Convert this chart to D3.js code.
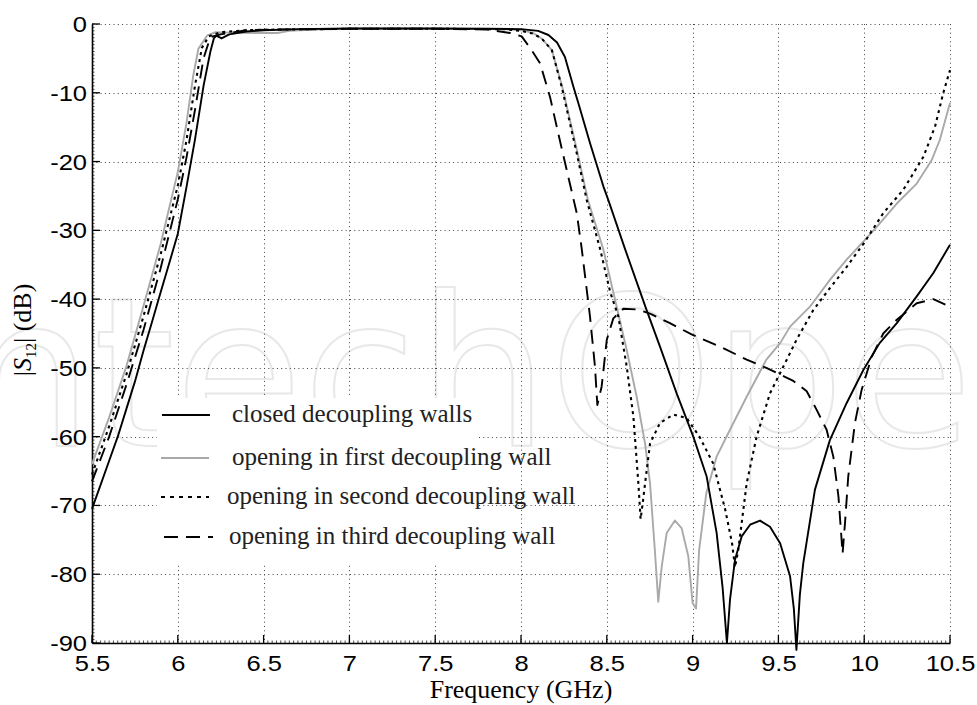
<!DOCTYPE html>
<html>
<head>
<meta charset="utf-8">
<script src="https://cdn.jsdelivr.net/npm/d3@7/dist/d3.min.js"></script>
<style>
  body { margin: 0; background: #fff; }
  svg { display: block; }
</style>
</head>
<body>
<div id="chart"></div>
<script>
'use strict';

// frequency (GHz), |S12| (dB)
const closedWalls = [
    [5.5,-70.5],[5.55,-67],[5.6,-63.5],[5.65,-60],[5.7,-56],[5.75,-52],[5.8,-47.5],[5.85,-43.3],[5.9,-39],
    [5.95,-34.8],[6.0,-30.5],[6.05,-23.8],[6.1,-16.8],[6.15,-9],[6.19,-4],[6.21,-2.1],[6.225,-1.7],[6.255,-2.1],
    [6.3,-1.5],[6.4,-1.1],[6.5,-0.9],[6.7,-0.75],[7.0,-0.65],[7.5,-0.65],[7.8,-0.7],[8.0,-0.75],[8.1,-1.0],
    [8.16,-1.6],[8.21,-2.7],[8.256,-4.8],[8.305,-9.1],[8.334,-11.5],[8.402,-17.3],[8.48,-23.6],[8.509,-25.6],
    [8.606,-32.7],[8.732,-41.6],[8.81,-46.9],[8.907,-53.7],[9.004,-60],[9.082,-65.8],[9.14,-74],[9.175,-82],
    [9.2,-90],[9.218,-83.7],[9.247,-77.9],[9.286,-74.5],[9.335,-72.8],[9.393,-72.2],[9.451,-73.1],[9.51,-75.5],
    [9.568,-80.3],[9.59,-85],[9.605,-91],[9.625,-83],[9.645,-78.4],[9.713,-67.7],[9.8,-60.5],[9.898,-55.1],
    [9.995,-50.3],[10.09,-46.4],[10.19,-43.5],[10.306,-39.6],[10.403,-36.2],[10.5,-32.1]
];

const firstWall = [
    [5.5,-64],[5.6,-57.2],[5.7,-49.8],[5.8,-41],[5.9,-32],[6.0,-21.5],[6.05,-14.5],[6.09,-7.5],[6.12,-3.6],
    [6.17,-1.7],[6.22,-1.2],[6.3,-1.25],[6.45,-1.3],[6.58,-1.3],[6.65,-1.0],[6.8,-0.8],[7.0,-0.7],[7.5,-0.7],
    [7.9,-0.75],[8.0,-0.9],[8.07,-1.3],[8.12,-2.1],[8.18,-3.8],[8.24,-9.1],[8.33,-18.8],[8.39,-25.6],
    [8.48,-32.8],[8.548,-40.1],[8.616,-47.4],[8.674,-54.2],[8.723,-61],[8.752,-66.8],[8.78,-76.5],[8.8,-84],
    [8.82,-78.9],[8.849,-74],[8.897,-72.2],[8.936,-73.3],[8.975,-77.4],[9.0,-84.2],[9.02,-85],[9.038,-76.5],
    [9.08,-68.2],[9.14,-62.9],[9.218,-59],[9.315,-54.2],[9.43,-48.8],[9.51,-46.4],[9.568,-44],[9.684,-41.1],
    [9.723,-39.8],[9.8,-37.2],[9.9,-34.2],[10.0,-31.5],[10.073,-29.5],[10.19,-26.1],[10.306,-23.2],
    [10.393,-19.8],[10.44,-16.9],[10.5,-11.5]
];

const secondWall = [
    [5.5,-65.5],[5.6,-58.5],[5.7,-51],[5.8,-42.5],[5.9,-33.5],[6.0,-23.5],[6.05,-17],[6.1,-9],[6.14,-3.5],
    [6.18,-1.8],[6.25,-1.2],[6.4,-0.9],[6.6,-0.8],[7.0,-0.7],[7.5,-0.7],[7.9,-0.75],[8.0,-1.0],[8.07,-1.4],
    [8.12,-2.1],[8.18,-3.8],[8.237,-9.1],[8.325,-18.8],[8.383,-25.6],[8.46,-32.6],[8.52,-39],[8.567,-42.5],
    [8.616,-49.8],[8.655,-57.1],[8.684,-66.8],[8.697,-72],[8.71,-69.5],[8.723,-66.8],[8.752,-61],[8.81,-58],
    [8.888,-56.8],[8.965,-57.3],[9.04,-60],[9.12,-63.9],[9.19,-70.6],[9.23,-75.5],[9.247,-79],[9.266,-76.5],
    [9.315,-66.8],[9.373,-60],[9.451,-53.7],[9.529,-49.8],[9.606,-45.9],[9.703,-41.6],[9.8,-38.4],
    [9.898,-35.3],[10.0,-31.8],[10.111,-27.5],[10.228,-24.1],[10.345,-19.3],[10.413,-14.9],[10.46,-10.1],
    [10.5,-6.7]
];

const thirdWall = [
    [5.5,-66.5],[5.6,-60],[5.7,-52.5],[5.8,-44.5],[5.9,-35.5],[6.0,-25.5],[6.05,-19.5],[6.1,-12.5],[6.15,-5],
    [6.19,-1.9],[6.25,-1.5],[6.4,-0.9],[6.6,-0.8],[7.0,-0.7],[7.5,-0.7],[7.8,-0.8],[7.936,-1.3],[8.004,-1.8],
    [8.062,-3.8],[8.111,-5.7],[8.169,-10.6],[8.217,-15.9],[8.266,-21.2],[8.325,-27.5],[8.354,-32.7],
    [8.402,-42.5],[8.431,-49.8],[8.445,-55.4],[8.47,-52.7],[8.5,-45.9],[8.538,-42.8],[8.597,-41.4],
    [8.674,-41.5],[8.752,-42.1],[8.868,-43.5],[9.0,-45.2],[9.16,-46.9],[9.315,-48.8],[9.43,-50],[9.538,-51.3],
    [9.587,-51.9],[9.665,-53.4],[9.723,-56.1],[9.781,-59],[9.82,-62.9],[9.85,-68.7],[9.874,-77],[9.888,-72.6],
    [9.907,-65.8],[9.946,-58],[9.985,-53.2],[10.044,-48.4],[10.111,-45],[10.19,-43],[10.306,-40.6],
    [10.403,-40],[10.5,-41.1]
];

const seriesNames = [
    "closed decoupling walls",
    "opening in first decoupling wall",
    "opening in second decoupling wall",
    "opening in third decoupling wall"
];

const freqTicks = [5.5, 6, 6.5, 7, 7.5, 8, 8.5, 9, 9.5, 10, 10.5];
const dbTicks = [0, -10, -20, -30, -40, -50, -60, -70, -80, -90];

const width = 977;
const height = 705;
const margin = { top: 24, right: 27, bottom: 62, left: 92 };
const serif = "'Liberation Serif', 'Times New Roman', serif";
const sans = "'Liberation Sans', Arial, sans-serif";
const stretch = 1.16; // tick labels in the figure are a bit wide

const styles = [
    { color: "#000", width: 1.9, dash: null },
    { color: "#a9a9a9", width: 1.9, dash: null },
    { color: "#000", width: 2.1, dash: "3,4" },
    { color: "#000", width: 1.9, dash: "14,8" }
];

const x = d3.scaleLinear().domain([5.5, 10.5]).range([margin.left, width - margin.right]);
const y = d3.scaleLinear().domain([-90, 0]).range([height - margin.bottom, margin.top]);

const svg = d3.select("#chart")
    .append("svg")
    .attr("viewBox", [0, 0, width, height])
    .attr("width", width)
    .attr("height", height);

svg.append("rect").attr("width", width).attr("height", height).attr("fill", "#fff");

// faint watermark
svg.append("text")
    .attr("x", -100)
    .attr("y", 446)
    .attr("font-family", "'DejaVu Sans', sans-serif")
    .attr("font-size", 208)
    .attr("fill", "none")
    .attr("stroke", "#e8e8e8")
    .attr("stroke-width", 2)
    .text("IntechOpen");

// grid
const grid = svg.append("g")
    .attr("stroke", "#444")
    .attr("stroke-width", 1)
    .attr("stroke-dasharray", "1,3.3");

grid.selectAll("line.v")
    .data(freqTicks.slice(1))
    .join("line")
    .attr("class", "v")
    .attr("x1", d => Math.round(x(d)) + 0.5)
    .attr("x2", d => Math.round(x(d)) + 0.5)
    .attr("y1", y(0))
    .attr("y2", y(-90));

grid.selectAll("line.h")
    .data(dbTicks.slice(0, -1))
    .join("line")
    .attr("class", "h")
    .attr("y1", d => Math.round(y(d)) + 0.5)
    .attr("y2", d => Math.round(y(d)) + 0.5)
    .attr("x1", x(5.5))
    .attr("x2", x(10.5));

// legend background hides the grid behind it
svg.append("rect")
    .attr("x", 157).attr("y", 398)
    .attr("width", 320).attr("height", 165)
    .attr("fill", "#fff");

// axes
const xAxis = d3.axisBottom(x).tickValues(freqTicks).tickSize(0)
    .tickFormat(d => String(d));
const yAxis = d3.axisLeft(y).tickValues(dbTicks).tickSize(0)
    .tickFormat(d => String(d));

const gx = svg.append("g")
    .attr("transform", `translate(0,${y(-90)})`)
    .call(xAxis);
const gy = svg.append("g")
    .attr("transform", `translate(${x(5.5)},0)`)
    .call(yAxis);

[gx, gy].forEach(g => {
    g.select(".domain").attr("stroke", "#000").attr("stroke-width", 1.6);
    g.selectAll("text")
        .attr("font-family", sans)
        .attr("font-size", 22)
        .attr("fill", "#000")
        .attr("transform", `scale(${stretch},1)`);
});
gx.selectAll(".tick text").attr("y", 28).attr("dy", 0);
gy.selectAll(".tick text").attr("x", -5 / stretch).attr("dy", "0.34em");

// major and minor ticks pointing into the plot
const ticks = svg.append("g").attr("stroke", "#000");
ticks.selectAll("line.xmaj").data(freqTicks).join("line")
    .attr("x1", d => x(d)).attr("x2", d => x(d))
    .attr("y1", y(-90)).attr("y2", y(-90) - 8).attr("stroke-width", 1.3);
ticks.selectAll("line.ymaj").data(dbTicks).join("line")
    .attr("y1", d => y(d)).attr("y2", d => y(d))
    .attr("x1", x(5.5)).attr("x2", x(5.5) + 8).attr("stroke-width", 1.3);
ticks.selectAll("line.xmin").data(d3.range(5.5, 10.5001, 0.025)).join("line")
    .attr("x1", d => x(d)).attr("x2", d => x(d))
    .attr("y1", y(-90)).attr("y2", y(-90) - 2.5).attr("stroke-width", 0.7);
ticks.selectAll("line.ymin").data(d3.range(-90, 0.001, 0.5)).join("line")
    .attr("y1", d => y(d)).attr("y2", d => y(d))
    .attr("x1", x(5.5)).attr("x2", x(5.5) + 2.5).attr("stroke-width", 0.7);

// curves
const line = d3.line().x(d => x(d[0])).y(d => y(d[1]));
const allSeries = [firstWall, closedWalls, secondWall, thirdWall];
const styleOrder = [1, 0, 2, 3];

svg.append("g")
    .attr("fill", "none")
    .selectAll("path")
    .data(allSeries)
    .join("path")
    .attr("d", line)
    .attr("stroke", (d, i) => styles[styleOrder[i]].color)
    .attr("stroke-width", (d, i) => styles[styleOrder[i]].width)
    .attr("stroke-dasharray", (d, i) => styles[styleOrder[i]].dash)
    .attr("stroke-linejoin", "round");

// legend
const legendRows = [
    { y: 415, x1: 162, x2: 210, tx: 232 },
    { y: 458, x1: 161, x2: 209, tx: 232 },
    { y: 497, x1: 161, x2: 209, tx: 227 },
    { y: 537, x1: 164, x2: 213, tx: 229 }
];

const legend = svg.append("g")
    .selectAll("g")
    .data(seriesNames)
    .join("g");

legend.append("line")
    .attr("x1", (d, i) => legendRows[i].x1)
    .attr("x2", (d, i) => legendRows[i].x2)
    .attr("y1", (d, i) => legendRows[i].y)
    .attr("y2", (d, i) => legendRows[i].y)
    .attr("stroke", (d, i) => styles[i].color)
    .attr("stroke-width", (d, i) => styles[i].width)
    .attr("stroke-dasharray", (d, i) => i === 2 ? "4,5" : styles[i].dash);

legend.append("text")
    .attr("x", (d, i) => legendRows[i].tx)
    .attr("y", (d, i) => legendRows[i].y + 7)
    .attr("font-family", serif)
    .attr("font-size", 25)
    .attr("fill", "#222")
    .text(d => d);

// axis titles
svg.append("text")
    .attr("x", (x(5.5) + x(10.5)) / 2)
    .attr("y", 698)
    .attr("text-anchor", "middle")
    .attr("font-family", serif)
    .attr("font-size", 26)
    .text("Frequency (GHz)");

const yTitle = svg.append("text")
    .attr("transform", "translate(31,330) rotate(-90)")
    .attr("text-anchor", "middle")
    .attr("font-family", serif)
    .attr("font-size", 26);
yTitle.append("tspan").text("|");
yTitle.append("tspan").attr("font-style", "italic").text("S");
yTitle.append("tspan").attr("font-size", 15).attr("dy", 5).text("12");
yTitle.append("tspan").attr("dy", -5).text("| (dB)");
</script>
</body>
</html>
